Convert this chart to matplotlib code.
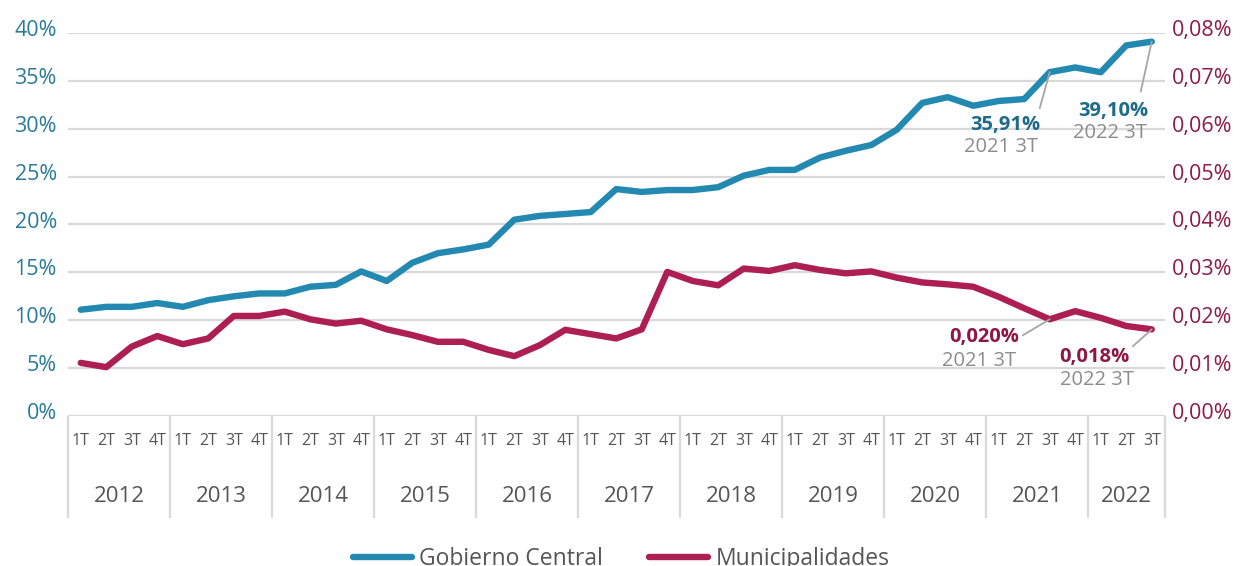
import matplotlib
matplotlib.use("Agg")
import matplotlib.pyplot as plt
import matplotlib.transforms as mtransforms
import numpy as np

plt.rcParams['font.family'] = ['Open Sans', 'DejaVu Sans']

years = ['2012', '2013', '2014', '2015', '2016', '2017', '2018', '2019', '2020', '2021', '2022']
quarters_per_year = [4, 4, 4, 4, 4, 4, 4, 4, 4, 4, 3]
quarter_names = ['1T', '2T', '3T', '4T']

gobierno_central = [11.1, 11.4, 11.4, 11.8, 11.4, 12.1, 12.5, 12.8, 12.8, 13.5, 13.7, 15.1,
                    14.1, 16.0, 17.0, 17.4, 17.9, 20.5, 20.9, 21.1, 21.3, 23.7, 23.4, 23.6,
                    23.6, 23.9, 25.1, 25.7, 25.7, 27.0, 27.7, 28.3, 29.9, 32.7, 33.3, 32.4,
                    32.9, 33.1, 35.91, 36.4, 35.9, 38.7, 39.10]
municipalidades = [0.0111, 0.0102, 0.0145, 0.0167, 0.0150, 0.0162, 0.0209, 0.0209, 0.0218, 0.0202,
                   0.0193, 0.0199, 0.0181, 0.0169, 0.0155, 0.0155, 0.0138, 0.0125, 0.0148, 0.0180,
                   0.0171, 0.0162, 0.0181, 0.0301, 0.0282, 0.0273, 0.0308, 0.0303, 0.0315, 0.0305,
                   0.0298, 0.0302, 0.0289, 0.0279, 0.0275, 0.0270, 0.0249, 0.0225, 0.0202, 0.0219,
                   0.0205, 0.0188, 0.0181]

left_ticks = [0, 5, 10, 15, 20, 25, 30, 35, 40]
left_labels = ['0%', '5%', '10%', '15%', '20%', '25%', '30%', '35%', '40%']
right_ticks = [0.00, 0.01, 0.02, 0.03, 0.04, 0.05, 0.06, 0.07, 0.08]
right_labels = ['0,00%', '0,01%', '0,02%', '0,03%', '0,04%', '0,05%', '0,06%', '0,07%', '0,08%']

# annotations: (index, value text, period text)
annot_blue = [(38, '35,91%', '2021 3T'), (42, '39,10%', '2022 3T')]
annot_mag = [(38, '0,020%', '2021 3T'), (42, '0,018%', '2022 3T')]

BLUE = '#2389B0'
MAG = '#AD1F53'
BLUE_TXT = '#2A7B98'
MAG_TXT = '#8E1B48'
BLUE_ANN = '#1D6B88'
MAG_ANN = '#8E1744'
GRAY_TXT = '#8C8C8C'
GRID = '#D9D9D9'
LABEL = '#555555'

W, H = 1244, 566
fig = plt.figure(figsize=(W / 100, H / 100), dpi=100)
ax_left, ax_right_px, ax_top, ax_bot = 68, 1164.5, 33, 416
ax = fig.add_axes([ax_left / W, 1 - ax_bot / H, (ax_right_px - ax_left) / W, (ax_bot - ax_top) / H])
ax2 = ax.twinx()

n = len(gobierno_central)
x = np.arange(n)

ax.set_xlim(-0.5, n - 0.5)
ax.set_ylim(0, 40)
ax2.set_ylim(0, 0.08)

for v in left_ticks:
    ax.axhline(v, color=GRID, lw=1.6, zorder=0)

l1, = ax2.plot(x, [g / 500 for g in gobierno_central], color=BLUE, lw=4.6,
               solid_capstyle='round', solid_joinstyle='round', label='Gobierno Central', zorder=3)
l2, = ax2.plot(x, municipalidades, color=MAG, lw=4.6, solid_capstyle='round',
               solid_joinstyle='round', label='Municipalidades', zorder=3)

for a in (ax, ax2):
    for s in a.spines.values():
        s.set_visible(False)
    a.tick_params(length=0)

ax.set_xticks([])
ax.set_yticks(left_ticks)
ax.set_yticklabels(left_labels, fontsize=15.5, color=BLUE_TXT)
ax.tick_params(axis='y', pad=8)
ax2.set_yticks(right_ticks)
ax2.set_yticklabels(right_labels, fontsize=15.5, color=MAG_TXT)
ax2.tick_params(axis='y', pad=5)
up = mtransforms.ScaledTranslation(0, 5 / 100, fig.dpi_scale_trans)
for lab in ax.get_yticklabels() + ax2.get_yticklabels():
    lab.set_transform(lab.get_transform() + up)

# category axis
trans = mtransforms.blended_transform_factory(ax.transData, ax.transAxes)
axh = ax_bot - ax_top
bounds = np.concatenate([[0], np.cumsum(quarters_per_year)]) - 0.5
ax.vlines(bounds, 0, -(518 - ax_bot) / axh, transform=trans, color=GRID, lw=1.6, clip_on=False)
idx = 0
for yr, nq in zip(years, quarters_per_year):
    for q in range(nq):
        ax.text(idx + q, -(441 - ax_bot) / axh, quarter_names[q], transform=trans, ha='center',
                va='center', fontsize=11.5, color=LABEL)
    ax.text(idx + (nq - 1) / 2, -(496 - ax_bot) / axh, yr, transform=trans, ha='center',
            va='center', fontsize=16, color=LABEL)
    idx += nq

# annotations (pixel offsets)
def annotate(i, yval, vtxt, ptxt, color, lead, voff, poff):
    ax2.annotate('', xy=(i, yval), xytext=lead, textcoords='offset pixels',
                 arrowprops=dict(arrowstyle='-', color='#A6A6A6', lw=1.3, shrinkA=0, shrinkB=0))
    ax2.annotate(vtxt, xy=(i, yval), xytext=voff, textcoords='offset pixels', ha='right',
                 va='center', fontsize=14.5, fontweight='bold', color=color)
    ax2.annotate(ptxt, xy=(i, yval), xytext=poff, textcoords='offset pixels', ha='right',
                 va='center', fontsize=14.5, color=GRAY_TXT)

annotate(annot_blue[0][0], gobierno_central[38] / 500, annot_blue[0][1], annot_blue[0][2], BLUE_ANN,
         (-10, -36), (-9, -53), (-12, -75))
annotate(annot_blue[1][0], gobierno_central[42] / 500, annot_blue[1][1], annot_blue[1][2], BLUE_ANN,
         (-11, -50), (-3, -69), (-5, -91))
annotate(annot_mag[0][0], municipalidades[38], annot_mag[0][1], annot_mag[0][2], MAG_ANN,
         (-27, -16), (-31, -18), (-34, -42))
annotate(annot_mag[1][0], municipalidades[42], annot_mag[1][1], annot_mag[1][2], MAG_ANN,
         (-19, -17), (-22, -28), (-18, -51))

fig.legend(handles=[l1, l2], loc='center', bbox_to_anchor=(621 / W, 7 / H), ncol=2,
           frameon=False, fontsize=16.5, handlelength=2.6, handletextpad=0.3, columnspacing=2.0,
           labelcolor=LABEL)

fig.savefig('out.png', dpi=100)
